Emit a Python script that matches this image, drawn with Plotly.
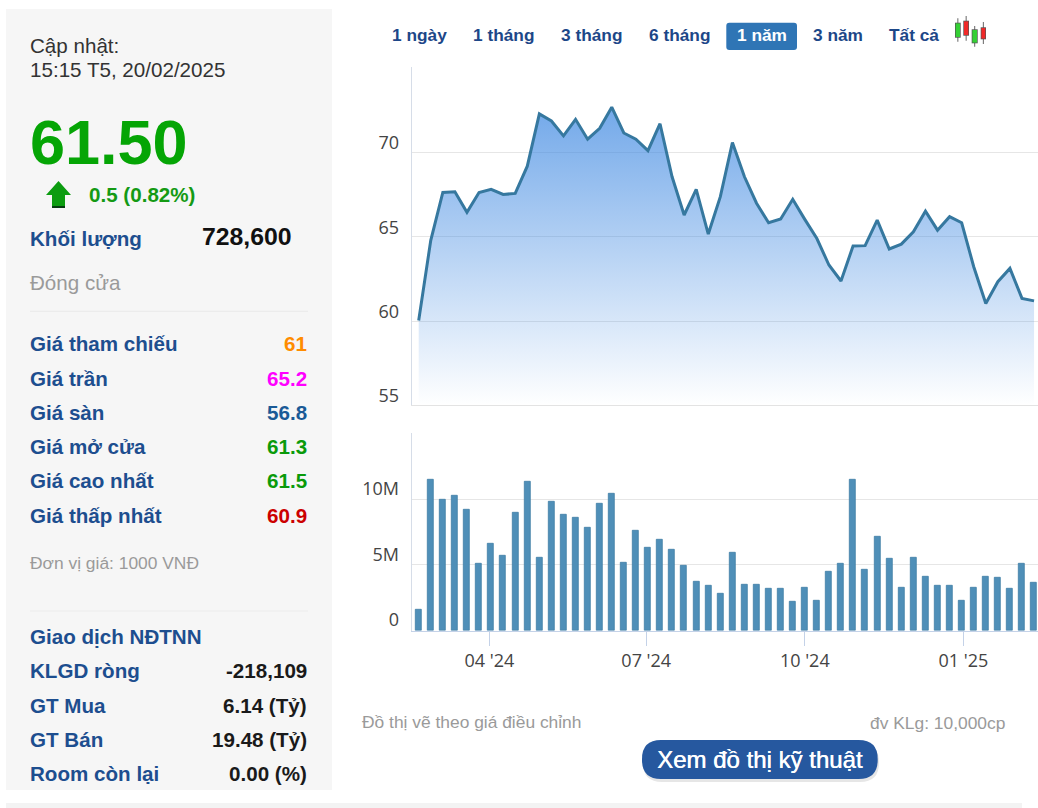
import pandas as pd
import plotly.graph_objects as go

W, H = 1038, 808

# ---------- data ----------
dates = pd.date_range("2024-02-20", periods=52, freq="7D")
price = [60.03, 64.8, 67.64, 67.68, 66.46, 67.64, 67.82, 67.52, 67.58, 69.2, 72.3, 71.88, 71.0,
         71.98, 70.8, 71.45, 72.7, 71.17, 70.8, 70.12, 71.72, 68.57, 66.3, 67.82,
         65.17, 67.39, 70.6, 68.57, 67.0, 65.84, 66.06, 67.23, 66.04, 64.9, 63.33, 62.38, 64.46,
         64.48, 66.0, 64.28, 64.57, 65.3, 66.53, 65.4, 66.2, 65.84, 63.23, 61.05, 62.34, 63.13,
         61.35, 61.2]
volume_m = [1.57, 11.44, 9.92, 10.25, 9.16, 5.06, 6.63, 5.67, 8.94, 11.34, 5.57, 9.77, 8.81,
            8.58, 7.85, 9.67, 10.38, 5.19, 7.62, 6.28, 6.89, 6.15, 4.96, 3.75,
            3.39, 2.78, 5.92, 3.52, 3.52, 3.16, 3.16, 2.2, 3.27, 2.3, 4.48, 5.09, 11.47,
            4.61, 7.14, 5.44, 3.27, 5.57, 4.13, 3.39, 3.39, 2.3, 3.27, 4.13, 4.0, 3.16,
            5.09, 3.65]
price_ticks = [55, 60, 65, 70, 75.07]
price_tick_labels = ["55", "60", "65", "70", ""]
volume_ticks = [0, 5, 10, 15.04]
volume_tick_labels = ["0", "5M", "10M", ""]

range_labels = ["1 ngày", "1 tháng", "3 tháng", "6 tháng", "1 năm", "3 năm", "Tất cả"]
price_rows = ["Giá tham chiếu", "Giá trần", "Giá sàn", "Giá mở cửa", "Giá cao nhất", "Giá thấp nhất"]
price_values = ["61", "65.2", "56.8", "61.3", "61.5", "60.9"]
foreign_rows = ["KLGD ròng", "GT Mua", "GT Bán", "Room còn lại"]
foreign_values = ["-218,109", "6.14 (Tỷ)", "19.48 (Tỷ)", "0.00 (%)"]

# ---------- styles / layout constants ----------
SANS = "Liberation Sans, Arial, sans-serif"
AXF = "Open Sans, sans-serif"
BLUE = "#1d4e8f"
GRAY = "#9a9a9a"
price_colors = ["#ff8c00", "#ff00ff", "#1a5a96", "#0a9a0a", "#0a9a0a", "#cc0000"]
price_y = [344, 378.5, 412.7, 446.7, 480.7, 515]
foreign_y = [670.5, 705, 739, 773]
range_x = [391, 472.3, 560, 648, 735.7, 811.7, 888.3]
LEFT = 28.8

px = lambda x: x / W
py = lambda y: 1 - y / H


def rect(x0, y0, x1, y1, color, layer="below"):
    return dict(type="rect", xref="paper", yref="paper", x0=px(x0), x1=px(x1), y0=py(y0), y1=py(y1),
                fillcolor=color, line_width=0, layer=layer)


def rrect(x0, y0, x1, y1, r, color, layer="below"):
    a, b, c, d = px(x0), px(x1), py(y0), py(y1)
    rx, ry = px(r), r / H
    p = (f"M{a + rx},{c} L{b - rx},{c} Q{b},{c} {b},{c - ry} L{b},{d + ry} Q{b},{d} {b - rx},{d} "
         f"L{a + rx},{d} Q{a},{d} {a},{d + ry} L{a},{c - ry} Q{a},{c} {a + rx},{c} Z")
    return dict(type="path", xref="paper", yref="paper", path=p, fillcolor=color, line_width=0, layer=layer)


def poly(points, color, layer="above"):
    p = "M" + " L".join(f"{px(x)},{py(y)}" for x, y in points) + " Z"
    return dict(type="path", xref="paper", yref="paper", path=p, fillcolor=color, line_width=0, layer=layer)


def text(x, y, s, size=20.6, color=BLUE, bold=False, anchor="left", font=SANS, shadow=None):
    f = dict(family=font, size=size, color=color, weight=700 if bold else 400)
    if shadow:
        f["shadow"] = shadow
    return dict(xref="paper", yref="paper", x=px(x), y=py(y), text=s, showarrow=False,
                xanchor=anchor, yanchor="middle", borderpad=0, font=f)


shapes = [
    rect(6, 9, 332, 790, "#f6f6f6"),
    rect(6, 803, 1022, 808, "#f3f3f3"),
    rect(30, 310.8, 308, 311.8, "#e9e9e9"),
    rect(30, 610.5, 308, 611.5, "#ececec"),
    rrect(726.3, 22.7, 797, 50, 3, "#2f75b5"),
    rrect(643, 743, 879, 782, 19, "#e6e6e6"),
    rrect(642, 740, 877.7, 779, 19, "#26589f"),
    # up arrow
    poly([(58.5, 181), (71, 195), (65, 195), (65, 206), (52, 206), (52, 195), (46, 195)], "#0c9c10"),
    rect(52, 206, 65, 208, "#063d10", "above"),
]
# candle icon: (x0, x1, wick top, body top, body bottom, wick bottom, colour)
for x0, x1, wt, bt, bb, wb, c in [(955, 960.7, 18.3, 22.7, 37.7, 41.7, "#35d035"),
                                  (963.3, 969, 16, 20.7, 35.7, 40.7, "#f02828"),
                                  (971.7, 977.7, 26, 29.3, 43.3, 46.7, "#35d035"),
                                  (980.7, 986, 22, 27.3, 39.3, 44, "#f02828")]:
    mid = (x0 + x1) / 2
    shapes.append(rect(mid - 0.5, wt, mid + 0.5, wb, "#666666", "above"))
    shapes.append(rect(x0, bt, x1, bb, "#555555", "above"))
    shapes.append(rect(x0 + 0.7, bt + 0.7, x1 - 0.7, bb - 0.7, c, "above"))

ann = [
    text(LEFT, 45, "Cập nhật:", color="#333333"),
    text(LEFT, 70, "15:15 T5, 20/02/2025", color="#333333"),
    text(LEFT, 141.5, "61.50", size=63, color="#05a505", bold=True),
    text(88, 194.5, "0.5 (0.82%)", color="#149a14", bold=True),
    text(LEFT, 238, "Khối lượng", bold=True),
    text(293, 236, "728,600", size=24.8, color="#111111", bold=True, anchor="right"),
    text(LEFT, 282, "Đóng cửa", color=GRAY),
    text(LEFT, 563, "Đơn vị giá: 1000 VNĐ", size=17.4, color=GRAY),
    text(LEFT, 636.5, "Giao dịch NĐTNN", bold=True),
    text(361, 722, "Đồ thị vẽ theo giá điều chỉnh", size=17.4, color=GRAY),
    text(1006, 723, "đv KLg: 10,000cp", size=17.4, color=GRAY, anchor="right"),
    text(759.8, 759, "Xem đồ thị kỹ thuật", size=24, color="#ffffff", anchor="center",
         shadow="0.4px 0 0 #ffffff"),
]
for lab, val, col, y in zip(price_rows, price_values, price_colors, price_y):
    ann.append(text(LEFT, y, lab, bold=True))
    ann.append(text(308, y, val, color=col, bold=True, anchor="right"))
for lab, val, y in zip(foreign_rows, foreign_values, foreign_y):
    ann.append(text(LEFT, y, lab, bold=True))
    ann.append(text(308, y, val, color="#1a1a1a", bold=True, anchor="right"))
for lab, x in zip(range_labels, range_x):
    ann.append(text(x, 35, lab, size=17.3, color="#ffffff" if lab == "1 năm" else "#1d4788", bold=True))

# ---------- figure ----------
fig = go.Figure()
fig.add_trace(go.Scatter(
    x=dates, y=price, mode="lines", xaxis="x", yaxis="y",
    line=dict(color="#36789f", width=3),
    fill="tozeroy",
    fillgradient=dict(type="vertical", start=55, stop=72.7,
                      colorscale=[[0, "rgba(60,135,225,0.0)"], [1, "rgba(60,135,225,0.72)"]]),
    hoverinfo="skip", showlegend=False,
))
fig.add_trace(go.Bar(
    x=dates, y=volume_m, xaxis="x2", yaxis="y2", width=300700000,
    marker=dict(color="#4f8fb8", line=dict(color="#3f7fa6", width=0.8)),
    hoverinfo="skip", showlegend=False,
))

xr = ["2024-02-15 22:30", "2025-02-13 07:00"]
axis_font = dict(family=AXF, size=18, color="#444444")
fig.update_layout(
    width=W, height=H, autosize=False,
    margin=dict(l=0, r=0, t=0, b=0, pad=0, autoexpand=False),
    paper_bgcolor="#ffffff", plot_bgcolor="rgba(0,0,0,0)",
    showlegend=False, bargap=0,
    xaxis=dict(type="date", domain=[px(411.7), 1], range=xr, anchor="y", showgrid=False, automargin=False,
               showticklabels=False, ticks="", showline=True, linecolor="#e3e3e3", linewidth=1.2, zeroline=False),
    yaxis=dict(domain=[py(405.3), py(67.3)], range=[55, 75.07], anchor="x", tickvals=price_ticks,
               ticktext=price_tick_labels, ticklabelposition="outside top", ticks="", ticklen=0, automargin=False,
               ticklabelstandoff=8, ticklabelshift=3, tickfont=axis_font, showgrid=True,
               gridcolor="#e6e6e6", gridwidth=1.4,
               showline=True, linecolor="#d6dde8", linewidth=1.2, zeroline=False),
    xaxis2=dict(type="date", domain=[px(411.7), 1], range=xr, anchor="y2", showgrid=False, automargin=False,
                dtick="M3", tick0="2024-01-01", tickformat="%m '%y", ticks="outside", ticklen=14,
                tickwidth=1, tickcolor="#c4d2e8", tickfont=axis_font, showline=True,
                linecolor="#c4d2e8", linewidth=1.2, zeroline=False),
    yaxis2=dict(domain=[py(630.7), py(432.7)], range=[0, 15.04], anchor="x2", tickvals=volume_ticks,
                ticktext=volume_tick_labels, ticklabelposition="outside top", ticks="", ticklen=0, automargin=False,
                ticklabelstandoff=8, ticklabelshift=2, tickfont=axis_font, showgrid=True,
                gridcolor="#e6e6e6", gridwidth=1.4,
                showline=True, linecolor="#d6dde8", linewidth=1.2, zeroline=False),
    shapes=shapes, annotations=ann,
)
fig.write_html("out.html", config={"displayModeBar": False},
               post_script="document.body.style.margin='0';document.body.style.overflow='hidden';")
